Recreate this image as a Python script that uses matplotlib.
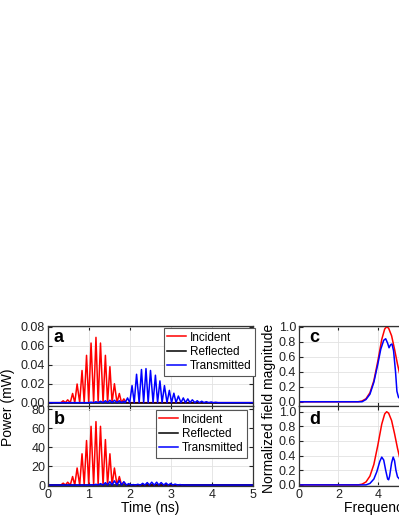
import matplotlib
matplotlib.use("Agg")
import matplotlib.pyplot as plt

plt.rcParams['font.family'] = ['Liberation Sans', 'DejaVu Sans']

# ---- data ------------------------------------------------------------------
# time-domain panels: peak times (ns) and peak heights of each fringe
incident_t = [0.37, 0.48, 0.60, 0.71, 0.83, 0.94, 1.05, 1.17, 1.28, 1.40, 1.51, 1.62, 1.74, 1.85]
incident_a = [0.002, 0.003, 0.0097, 0.0197, 0.034, 0.050, 0.063, 0.069, 0.063, 0.050, 0.038, 0.020, 0.0097, 0.004]
incident_b = [2, 3, 9, 18, 33, 47, 62, 67, 62, 48, 33, 18, 9, 3]

transmitted_a_t = [1.05, 1.17, 1.28, 1.40, 1.51, 1.62, 1.74, 1.85,
                   1.94, 2.05, 2.16, 2.28, 2.39, 2.50, 2.62, 2.73, 2.84, 2.96,
                   3.07, 3.18, 3.30, 3.41, 3.52, 3.64, 3.75, 3.86, 3.98, 4.09]
transmitted_a = [0.0005, 0.001, 0.0015, 0.002, 0.0025, 0.0025, 0.002, 0.0015,
                 0.005, 0.018, 0.030, 0.035, 0.036, 0.034, 0.029, 0.023, 0.018, 0.013,
                 0.010, 0.007, 0.005, 0.004, 0.003, 0.002, 0.0015, 0.001, 0.0007, 0.0004]

transmitted_b_t = [1.05, 1.17, 1.28, 1.40, 1.51, 1.62, 1.74, 1.85, 1.97, 2.08,
                   2.19, 2.31, 2.42, 2.53, 2.65, 2.76, 2.88, 2.99, 3.10, 3.22, 3.33]
transmitted_b = [0.3, 0.8, 1.5, 2.5, 3.5, 4.5, 4.8, 3.5, 1.5, 0.5,
                 0.8, 1.8, 2.6, 3.0, 3.0, 2.6, 2.1, 1.6, 1.0, 0.5, 0.2]

reflected_t = [0.0, 5.0]
reflected_a = [0.0, 0.0]
reflected_b = [0.0, 0.0]

# spectra (GHz, normalized magnitude)
spec_f = [0, 3.0, 3.2, 3.4, 3.6, 3.8, 4.0, 4.2, 4.35, 4.45, 4.55, 4.7, 4.85, 5.0, 5.2, 5.4, 5.7, 6.0, 10]
spec_incident = [0, 0, 0.01, 0.04, 0.12, 0.28, 0.54, 0.83, 0.97, 1.0, 0.98, 0.88, 0.70, 0.50, 0.27, 0.12, 0.03, 0, 0]

spec_c_f = [0, 3.2, 3.4, 3.6, 3.8, 4.0, 4.15, 4.3, 4.4, 4.5, 4.57, 4.65, 4.72, 4.8, 4.9, 4.97, 5.05, 5.2, 10]
spec_c_trans = [0, 0, 0.03, 0.10, 0.26, 0.50, 0.70, 0.82, 0.84, 0.78, 0.72, 0.76, 0.77, 0.68, 0.40, 0.14, 0.06, 0.02, 0]

spec_d_f = [0, 3.4, 3.6, 3.8, 3.95, 4.1, 4.2, 4.3, 4.4, 4.5, 4.55, 4.6, 4.7, 4.78, 4.85, 4.92, 5.0, 5.1, 10]
spec_d_trans = [0, 0, 0.02, 0.08, 0.18, 0.32, 0.38, 0.34, 0.20, 0.08, 0.07, 0.12, 0.30, 0.38, 0.33, 0.20, 0.11, 0.08, 0]

time_ticks = [0, 1, 2, 3, 4, 5]
freq_ticks = [0, 2, 4, 6, 8, 10]
labels = ["Incident", "Reflected", "Transmitted"]

W, H = 399, 516
HALF = 0.057  # half fringe period, ns


def fringe_line(peaks_t, peaks_p):
    # zero baseline, then one up-down fringe per peak
    t, p = [0.0], [0.0]
    for tk, pk in zip(peaks_t, peaks_p):
        t += [tk - HALF, tk]
        p += [0.0, pk]
    t += [peaks_t[-1] + HALF, 5.0]
    p += [0.0, 0.0]
    return t, p


def px_axes(fig, x0, y0, x1, y1):
    return fig.add_axes([x0 / W, 1 - y1 / H, (x1 - x0) / W, (y1 - y0) / H])


def style(ax):
    ax.grid(True, color="#e2e2e2", lw=0.6)
    ax.set_axisbelow(True)
    ax.tick_params(direction="in", top=True, right=True, length=3, width=0.8,
                   labelsize=9, pad=2, colors="#222222")
    for s in ax.spines.values():
        s.set_color("#333333")
        s.set_linewidth(0.9)


fig = plt.figure(figsize=(W / 100, H / 100), dpi=100)
ax_a = px_axes(fig, 48, 326, 253, 405.5)
ax_b = px_axes(fig, 48, 405.5, 253, 486)
ax_c = px_axes(fig, 299, 326, 496, 405.5)
ax_d = px_axes(fig, 299, 405.5, 496, 486)

for ax, inc, refl, tt, tr in [(ax_a, incident_a, reflected_a, transmitted_a_t, transmitted_a),
                              (ax_b, incident_b, reflected_b, transmitted_b_t, transmitted_b)]:
    style(ax)
    ax.plot(*fringe_line(incident_t, inc), color="red", lw=1.1, label=labels[0])
    ax.plot(reflected_t, refl, color="black", lw=1.1, label=labels[1])
    ax.plot(*fringe_line(tt, tr), color="blue", lw=1.1, label=labels[2])
    ax.set_xlim(0, 5)
    ax.set_xticks(time_ticks)

ax_a.set_ylim(-0.003, 0.081)
ax_a.set_yticks([0, 0.02, 0.04, 0.06, 0.08])
ax_a.set_yticklabels(["0.00", "0.02", "0.04", "0.06", "0.08"])
ax_a.tick_params(labelbottom=False)
ax_b.set_ylim(-1, 84)
ax_b.set_yticks([0, 20, 40, 60, 80])

for ax, anchor in [(ax_a, (255, 328)), (ax_b, (247, 410))]:
    leg = ax.legend(loc="upper right", bbox_to_anchor=(anchor[0] / W, 1 - anchor[1] / H),
                    bbox_transform=fig.transFigure, fontsize=8.5, fancybox=False,
                    framealpha=1, edgecolor="#555555", borderpad=0.3, labelspacing=0.2,
                    handlelength=1.6, handletextpad=0.3, borderaxespad=0)
    leg.get_frame().set_linewidth(0.8)

for ax, f, tr in [(ax_c, spec_c_f, spec_c_trans), (ax_d, spec_d_f, spec_d_trans)]:
    style(ax)
    ax.plot(spec_f, spec_incident, color="red", lw=1.1)
    ax.plot(f, tr, color="blue", lw=1.1)
    ax.set_xlim(0, 10)
    ax.set_xticks(freq_ticks)
    ax.set_yticks([0, 0.2, 0.4, 0.6, 0.8, 1.0])

ax_c.set_ylim(-0.05, 1.01)
ax_c.tick_params(labelbottom=False)
ax_d.set_ylim(-0.015, 1.085)

for letter, x, y in [("a", 58, 338), ("b", 59, 420), ("c", 314, 338), ("d", 315, 420)]:
    fig.text(x / W, 1 - y / H, letter, fontsize=13, fontweight="bold", ha="center", va="center")

fig.text(8 / W, 1 - 407 / H, "Power (mW)", rotation=90, fontsize=10, ha="center", va="center")
fig.text(269 / W, 1 - 408 / H, "Normalized field magnitude", rotation=90, fontsize=10,
         ha="center", va="center")
fig.text(150.5 / W, 1 - 508 / H, "Time (ns)", fontsize=10, ha="center", va="center")
fig.text(397.5 / W, 1 - 508 / H, "Frequency (GHz)", fontsize=10, ha="center", va="center")

fig.savefig("out.png", dpi=100)
